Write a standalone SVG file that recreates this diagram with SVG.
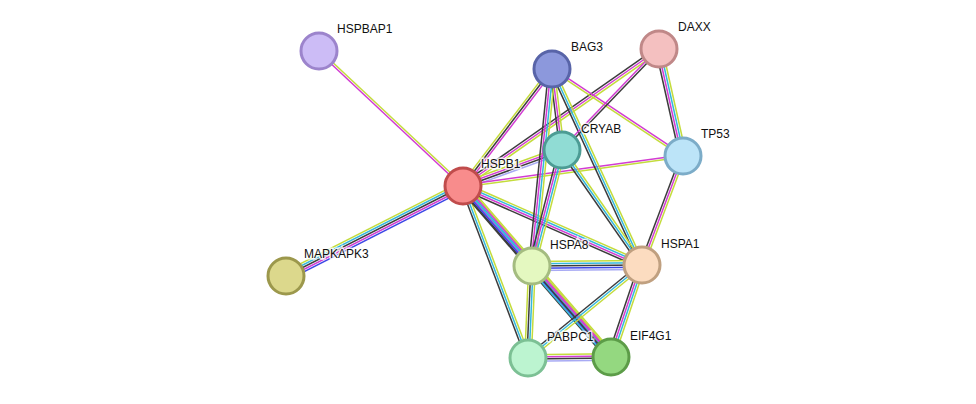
<svg xmlns="http://www.w3.org/2000/svg" xmlns:xlink="http://www.w3.org/1999/xlink" width="976" height="404" viewBox="0 0 976 404">
<style>
use,line{fill:none;stroke-width:1.5}
.Y{stroke:#c4dc3c}.M{stroke:#d23cd2}.K{stroke:#3c3c3c}.C{stroke:#34b8dc}.B{stroke:#3c46e6}.L{stroke:#a8aaf4}
.n circle{stroke-width:3}
text{font-family:"Liberation Sans",Arial,sans-serif;font-size:12px;fill:#111;stroke:#fff;stroke-width:3;stroke-opacity:.8;paint-order:stroke}
</style>
<defs>
<line id="e1" x1="319" y1="51" x2="463" y2="186"/>
<line id="e2" x1="286" y1="276" x2="463" y2="186"/>
<line id="e3" x1="463" y1="186" x2="552" y2="69"/>
<line id="e4" x1="463" y1="186" x2="659" y2="49"/>
<line id="e5" x1="463" y1="186" x2="562" y2="150"/>
<line id="e6" x1="463" y1="186" x2="683" y2="156"/>
<line id="e7" x1="463" y1="186" x2="532" y2="266"/>
<line id="e8" x1="463" y1="186" x2="642" y2="265"/>
<line id="e9" x1="463" y1="186" x2="528" y2="358"/>
<line id="e10" x1="463" y1="186" x2="611" y2="357"/>
<line id="e11" x1="552" y1="69" x2="562" y2="150"/>
<line id="e12" x1="552" y1="69" x2="532" y2="266"/>
<line id="e13" x1="552" y1="69" x2="642" y2="265"/>
<line id="e14" x1="552" y1="69" x2="683" y2="156"/>
<line id="e15" x1="659" y1="49" x2="683" y2="156"/>
<line id="e16" x1="659" y1="49" x2="562" y2="150"/>
<line id="e18" x1="562" y1="150" x2="532" y2="266"/>
<line id="e19" x1="562" y1="150" x2="642" y2="265"/>
<line id="e20" x1="683" y1="156" x2="642" y2="265"/>
<line id="e22" x1="532" y1="266" x2="642" y2="265"/>
<line id="e23" x1="532" y1="266" x2="528" y2="358"/>
<line id="e24" x1="532" y1="266" x2="611" y2="357"/>
<line id="e25" x1="642" y1="265" x2="528" y2="358"/>
<line id="e26" x1="642" y1="265" x2="611" y2="357"/>
<line id="e27" x1="528" y1="358" x2="611" y2="357"/>
</defs>
<g id="edges">
<use href="#e1" class="Y" transform="translate(0.75,-0.8)"/><use href="#e1" class="M" transform="translate(-0.75,0.8)"/>
<use href="#e2" class="Y" transform="translate(-2,-3.92)"/><use href="#e2" class="C" transform="translate(-1,-1.96)"/><use href="#e2" class="K"/><use href="#e2" class="M" transform="translate(1,1.96)"/><use href="#e2" class="B" transform="translate(2,3.92)"/>
<use href="#e3" class="Y" transform="translate(-1.75,-1.33)"/><use href="#e3" class="K"/><use href="#e3" class="M" transform="translate(1.75,1.33)"/>
<use href="#e4" class="K" transform="translate(-1.26,-1.8)"/><use href="#e4" class="M"/><use href="#e4" class="Y" transform="translate(1.26,1.8)"/>
<use href="#e5" class="Y" transform="translate(-1.13,-3.1)"/><use href="#e5" class="M" transform="translate(-0.38,-1.04)"/><use href="#e5" class="K" transform="translate(0.38,1.04)"/><use href="#e5" class="L" transform="translate(1.13,3.1)"/>
<use href="#e6" class="M" transform="translate(-0.15,-1.09)"/><use href="#e6" class="Y" transform="translate(0.15,1.09)"/>
<use href="#e7" class="Y" transform="translate(2.5,-2.16)"/><use href="#e7" class="C" transform="translate(0.84,-0.72)"/><use href="#e7" class="M" transform="translate(-0.84,0.72)"/><use href="#e7" class="K" transform="translate(-2.5,2.16)"/>
<use href="#e8" class="Y" transform="translate(1.34,-3.02)"/><use href="#e8" class="C" transform="translate(0.45,-1)"/><use href="#e8" class="M" transform="translate(-0.45,1)"/><use href="#e8" class="K" transform="translate(-1.34,3.02)"/>
<use href="#e9" class="Y" transform="translate(2.06,-0.78)"/><use href="#e9" class="C"/><use href="#e9" class="K" transform="translate(-2.06,0.78)"/>
<use href="#e10" class="Y" transform="translate(3.32,-2.88)"/><use href="#e10" class="M" transform="translate(1.66,-1.44)"/><use href="#e10" class="C"/><use href="#e10" class="B" transform="translate(-1.66,1.44)"/><use href="#e10" class="K" transform="translate(-3.32,2.88)"/>
<use href="#e11" class="Y" transform="translate(2.18,-0.27)"/><use href="#e11" class="M"/><use href="#e11" class="K" transform="translate(-2.18,0.27)"/>
<use href="#e12" class="Y" transform="translate(3.29,0.33)"/><use href="#e12" class="C" transform="translate(1.1,0.11)"/><use href="#e12" class="M" transform="translate(-1.1,-0.11)"/><use href="#e12" class="K" transform="translate(-3.29,-0.33)"/>
<use href="#e13" class="Y" transform="translate(2,-0.92)"/><use href="#e13" class="C"/><use href="#e13" class="K" transform="translate(-2,0.92)"/>
<use href="#e14" class="M" transform="translate(0.61,-0.92)"/><use href="#e14" class="Y" transform="translate(-0.61,0.92)"/>
<use href="#e15" class="Y" transform="translate(3.23,-0.72)"/><use href="#e15" class="C" transform="translate(1.08,-0.24)"/><use href="#e15" class="M" transform="translate(-1.08,0.24)"/><use href="#e15" class="K" transform="translate(-3.23,0.72)"/>
<use href="#e16" class="K" transform="translate(0.8,0.76)"/><use href="#e16" class="M" transform="translate(-0.8,-0.76)"/>
<use href="#e18" class="Y" transform="translate(3.2,0.83)"/><use href="#e18" class="C" transform="translate(1.07,0.28)"/><use href="#e18" class="M" transform="translate(-1.07,-0.28)"/><use href="#e18" class="K" transform="translate(-3.2,-0.83)"/>
<use href="#e19" class="Y" transform="translate(1.81,-1.26)"/><use href="#e19" class="C"/><use href="#e19" class="K" transform="translate(-1.81,1.26)"/>
<use href="#e20" class="Y" transform="translate(2.06,0.77)"/><use href="#e20" class="M"/><use href="#e20" class="K" transform="translate(-2.06,-0.77)"/>
<use href="#e22" class="Y" transform="translate(0,-4.4)"/><use href="#e22" class="C" transform="translate(0,-2.2)"/><use href="#e22" class="K"/><use href="#e22" class="B" transform="translate(0,2.2)"/><use href="#e22" class="L" transform="translate(0,4.4)"/>
<use href="#e23" class="Y" transform="translate(3.3,0)"/><use href="#e23" class="C" transform="translate(1.1,0)"/><use href="#e23" class="K" transform="translate(-1.1,0)"/><use href="#e23" class="Y" transform="translate(-3.3,0)"/>
<use href="#e24" class="Y" transform="translate(2.5,-2.16)"/><use href="#e24" class="M" transform="translate(0.84,-0.72)"/><use href="#e24" class="K" transform="translate(-0.84,0.72)"/><use href="#e24" class="C" transform="translate(-2.5,2.16)"/>
<use href="#e25" class="Y" transform="translate(1.39,1.71)"/><use href="#e25" class="C"/><use href="#e25" class="K" transform="translate(-1.39,-1.71)"/>
<use href="#e26" class="Y" transform="translate(3.12,1.05)"/><use href="#e26" class="C" transform="translate(1.04,0.35)"/><use href="#e26" class="M" transform="translate(-1.04,-0.35)"/><use href="#e26" class="K" transform="translate(-3.12,-1.05)"/>
<use href="#e27" class="Y" transform="translate(0,-3.3)"/><use href="#e27" class="M" transform="translate(0,-1.1)"/><use href="#e27" class="K" transform="translate(0,1.1)"/><use href="#e27" class="L" transform="translate(0,3.3)"/>
</g>
<g id="HSPBAP1" class="n"><circle cx="319" cy="51" r="18" fill="#ccbcf6" stroke="#9c84cc"/><text x="337" y="33">HSPBAP1</text></g>
<g id="BAG3" class="n"><circle cx="552" cy="69" r="18" fill="#8c98dc" stroke="#5864a8"/><text x="571" y="51">BAG3</text></g>
<g id="DAXX" class="n"><circle cx="659" cy="49" r="18" fill="#f4c0c0" stroke="#c08888"/><text x="678" y="31">DAXX</text></g>
<g id="CRYAB" class="n"><circle cx="562" cy="150" r="18" fill="#90dcd4" stroke="#4c9c94"/><text x="581" y="133">CRYAB</text></g>
<g id="TP53" class="n"><circle cx="683" cy="156" r="18" fill="#bce4f8" stroke="#7cacc8"/><text x="701" y="138">TP53</text></g>
<g id="HSPB1" class="n"><circle cx="463" cy="186" r="18" fill="#f88c8c" stroke="#c04c4c"/><text x="481" y="168">HSPB1</text></g>
<g id="MAPKAPK3" class="n"><circle cx="286" cy="276" r="18" fill="#dcd88c" stroke="#9c984c"/><text x="304" y="258">MAPKAPK3</text></g>
<g id="HSPA8" class="n"><circle cx="532" cy="266" r="18" fill="#e4f8c0" stroke="#a4bc80"/><text x="550" y="249">HSPA8</text></g>
<g id="HSPA1" class="n"><circle cx="642" cy="265" r="18" fill="#fcdcc0" stroke="#c0a080"/><text x="661" y="248">HSPA1</text></g>
<g id="PABPC1" class="n"><circle cx="528" cy="358" r="18" fill="#bcf4d0" stroke="#7cc094"/><text x="547" y="341">PABPC1</text></g>
<g id="EIF4G1" class="n"><circle cx="611" cy="357" r="18" fill="#94d880" stroke="#5c9c48"/><text x="630" y="340">EIF4G1</text></g>
</svg>
